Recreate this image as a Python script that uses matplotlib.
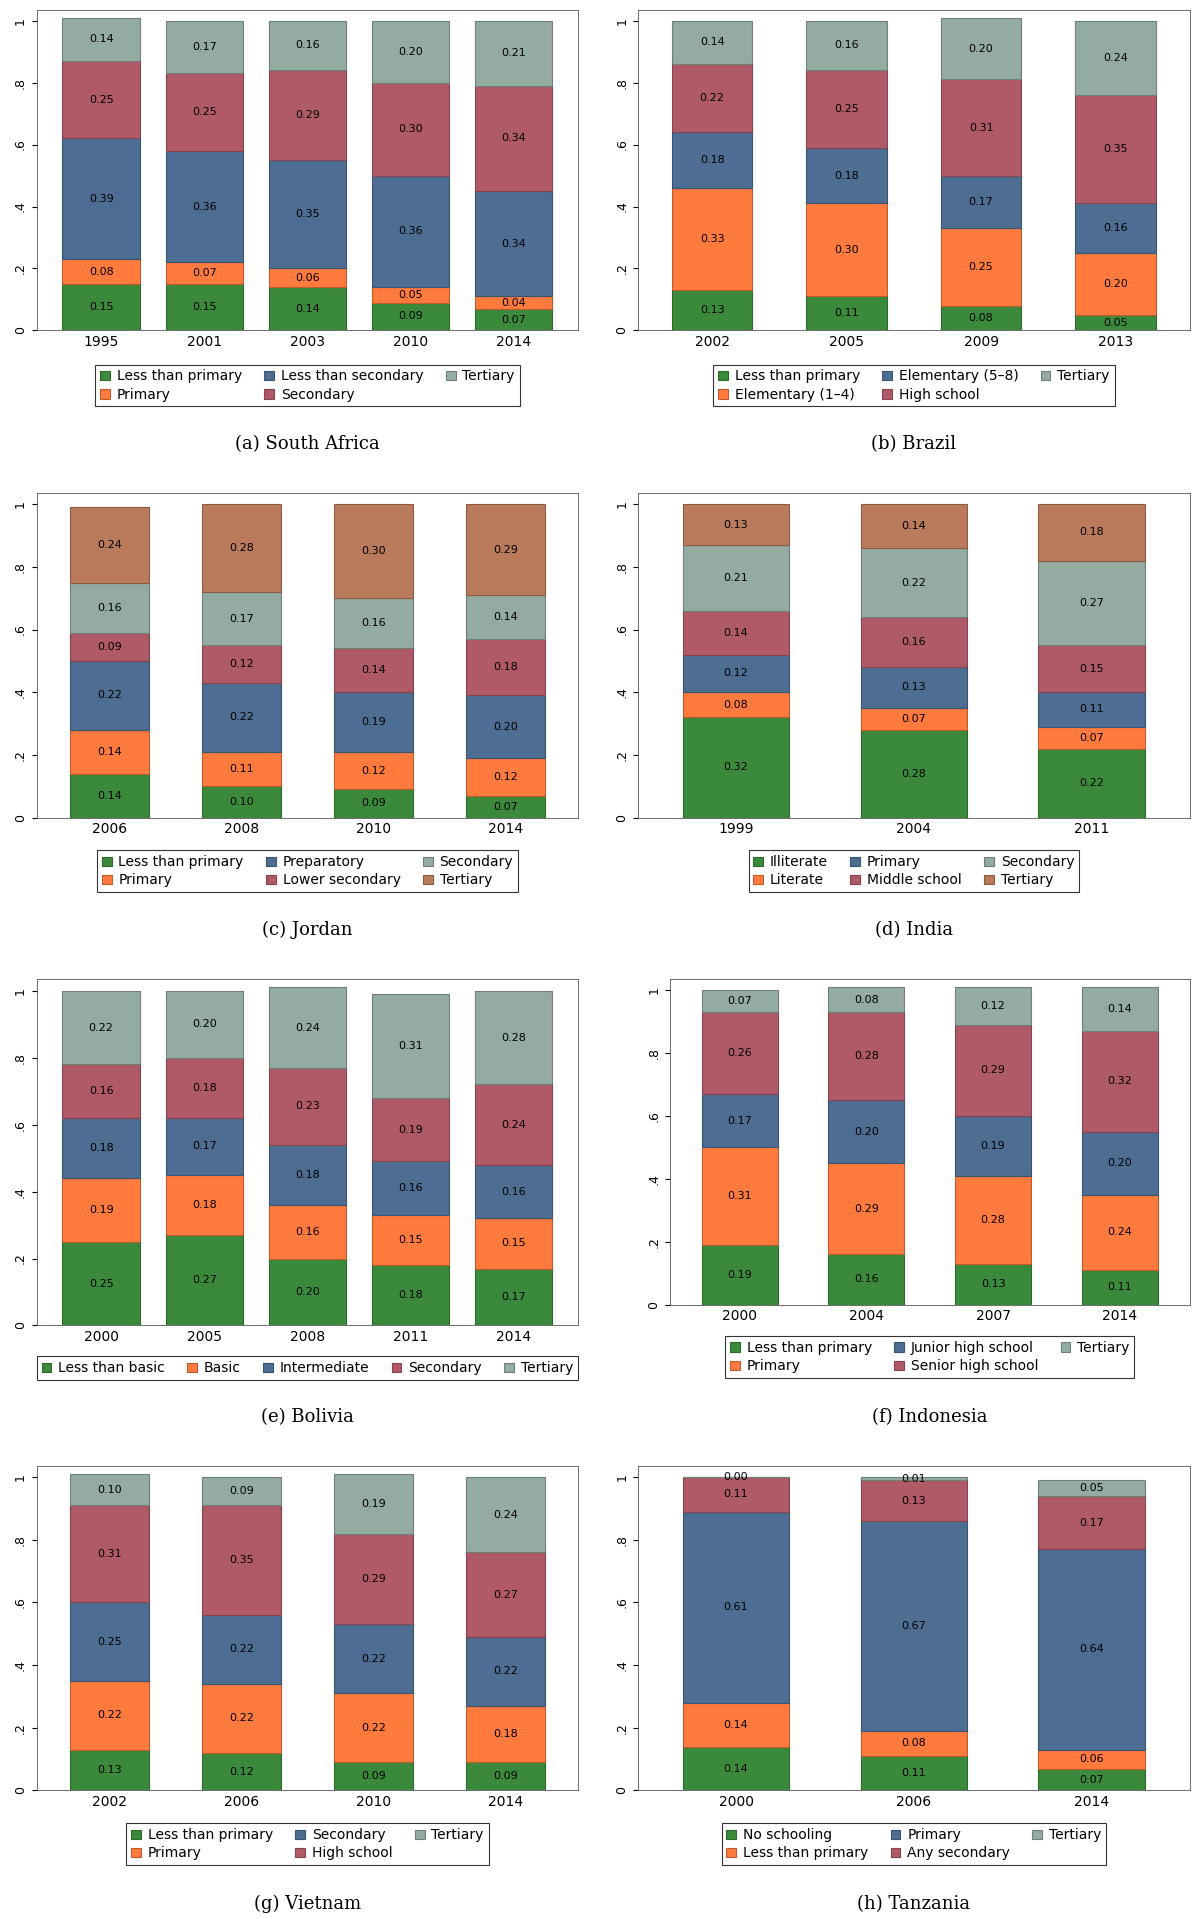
import matplotlib
matplotlib.use("Agg")
import matplotlib.pyplot as plt
import numpy as np

G, O, B, R, S, T = "#3b8a3b", "#ff7a3d", "#4d6e92", "#b05a68", "#93aba0", "#b97b5b"

sa_years = ["1995", "2001", "2003", "2010", "2014"]
sa_cats = ["Less than primary", "Primary", "Less than secondary", "Secondary", "Tertiary"]
sa_vals = [[.15, .15, .14, .09, .07], [.08, .07, .06, .05, .04], [.39, .36, .35, .36, .34],
           [.25, .25, .29, .30, .34], [.14, .17, .16, .20, .21]]

br_years = ["2002", "2005", "2009", "2013"]
br_cats = ["Less than primary", "Elementary (1\u20134)", "Elementary (5\u20138)", "High school", "Tertiary"]
br_vals = [[.13, .11, .08, .05], [.33, .30, .25, .20], [.18, .18, .17, .16],
           [.22, .25, .31, .35], [.14, .16, .20, .24]]

jo_years = ["2006", "2008", "2010", "2014"]
jo_cats = ["Less than primary", "Primary", "Preparatory", "Lower secondary", "Secondary", "Tertiary"]
jo_vals = [[.14, .10, .09, .07], [.14, .11, .12, .12], [.22, .22, .19, .20],
           [.09, .12, .14, .18], [.16, .17, .16, .14], [.24, .28, .30, .29]]

in_years = ["1999", "2004", "2011"]
in_cats = ["Illiterate", "Literate", "Primary", "Middle school", "Secondary", "Tertiary"]
in_vals = [[.32, .28, .22], [.08, .07, .07], [.12, .13, .11],
           [.14, .16, .15], [.21, .22, .27], [.13, .14, .18]]

bo_years = ["2000", "2005", "2008", "2011", "2014"]
bo_cats = ["Less than basic", "Basic", "Intermediate", "Secondary", "Tertiary"]
bo_vals = [[.25, .27, .20, .18, .17], [.19, .18, .16, .15, .15], [.18, .17, .18, .16, .16],
           [.16, .18, .23, .19, .24], [.22, .20, .24, .31, .28]]

id_years = ["2000", "2004", "2007", "2014"]
id_cats = ["Less than primary", "Primary", "Junior high school", "Senior high school", "Tertiary"]
id_vals = [[.19, .16, .13, .11], [.31, .29, .28, .24], [.17, .20, .19, .20],
           [.26, .28, .29, .32], [.07, .08, .12, .14]]

vn_years = ["2002", "2006", "2010", "2014"]
vn_cats = ["Less than primary", "Primary", "Secondary", "High school", "Tertiary"]
vn_vals = [[.13, .12, .09, .09], [.22, .22, .22, .18], [.25, .22, .22, .22],
           [.31, .35, .29, .27], [.10, .09, .19, .24]]

tz_years = ["2000", "2006", "2014"]
tz_cats = ["No schooling", "Less than primary", "Primary", "Any secondary", "Tertiary"]
tz_vals = [[.14, .11, .07], [.14, .08, .06], [.61, .67, .64], [.11, .13, .17], [.00, .01, .05]]

panels = [
    ("(a) South Africa", sa_years, sa_cats, sa_vals, [G, O, B, R, S], 3),
    ("(b) Brazil", br_years, br_cats, br_vals, [G, O, B, R, S], 3),
    ("(c) Jordan", jo_years, jo_cats, jo_vals, [G, O, B, R, S, T], 3),
    ("(d) India", in_years, in_cats, in_vals, [G, O, B, R, S, T], 3),
    ("(e) Bolivia", bo_years, bo_cats, bo_vals, [G, O, B, R, S], 5),
    ("(f) Indonesia", id_years, id_cats, id_vals, [G, O, B, R, S], 3),
    ("(g) Vietnam", vn_years, vn_cats, vn_vals, [G, O, B, R, S], 3),
    ("(h) Tanzania", tz_years, tz_cats, tz_vals, [G, O, B, R, S], 3),
]

def darker(c, f=0.75):
    rgb = np.array(matplotlib.colors.to_rgb(c))
    return tuple(rgb * f)

fig = plt.figure(figsize=(11.92, 19.19), dpi=100)
W, H = 975.0, 1568.0
# (left, top, right, bottom) in reference display pixels
boxes = [(30, 8, 473, 270), (522, 8, 973, 270),
         (30, 403, 473, 668), (522, 403, 973, 668),
         (30, 800, 473, 1083), (548, 800, 973, 1066),
         (30, 1198, 473, 1463), (522, 1198, 973, 1463)]
legend_y = [315, 315, 712, 712, 1118, 1109, 1507, 1507]
caption_y = [363, 363, 760, 760, 1158, 1158, 1556, 1556]

for i, (title, years, cats, vals, cols, ncol) in enumerate(panels):
    l, t, rr, b = boxes[i]
    ax = fig.add_axes([l / W, 1 - b / H, (rr - l) / W, (b - t) / H])
    n = len(years)
    x = np.arange(n)
    width = 0.75 if n == 5 else 0.6
    bottom = np.zeros(n)
    handles = []
    for cat, v, col in zip(cats, vals, cols):
        v = np.array(v)
        h = ax.bar(x, v, width, bottom=bottom, color=col, edgecolor=darker(col), linewidth=0.8, label=cat)
        handles.append(h)
        for xi, bi, vi in zip(x, bottom, v):
            ax.text(xi, bi + vi / 2, f"{vi:.2f}", ha="center", va="center", fontsize=8)
        bottom = bottom + v
    ax.set_xlim(-0.25 - width / 2, n - 1 + width / 2 + 0.25)
    ax.set_ylim(0, 1.035)
    ax.set_xticks(x)
    ax.set_xticklabels(years, fontsize=10)
    ax.tick_params(axis="x", length=0)
    ax.set_yticks([0, .2, .4, .6, .8, 1])
    ax.set_yticklabels(["0", ".2", ".4", ".6", ".8", "1"], rotation=90, va="center", fontsize=9)
    for s in ax.spines.values():
        s.set_linewidth(0.6)
        s.set_color("#555555")
    cx = ((l + rr) / 2) / W
    leg = fig.legend(handles=handles, ncol=ncol, loc="center", bbox_to_anchor=(cx, 1 - legend_y[i] / H),
                     fontsize=10, frameon=True, fancybox=False, edgecolor="black",
                     handlelength=0.7, handleheight=0.7, columnspacing=1.6, handletextpad=0.5,
                     borderpad=0.35, labelspacing=0.3)
    leg.get_frame().set_linewidth(0.8)
    fig.text(cx, 1 - caption_y[i] / H, title, ha="center", va="center",
             fontsize=13, family="DejaVu Serif")

fig.savefig("out.png", dpi=100)
